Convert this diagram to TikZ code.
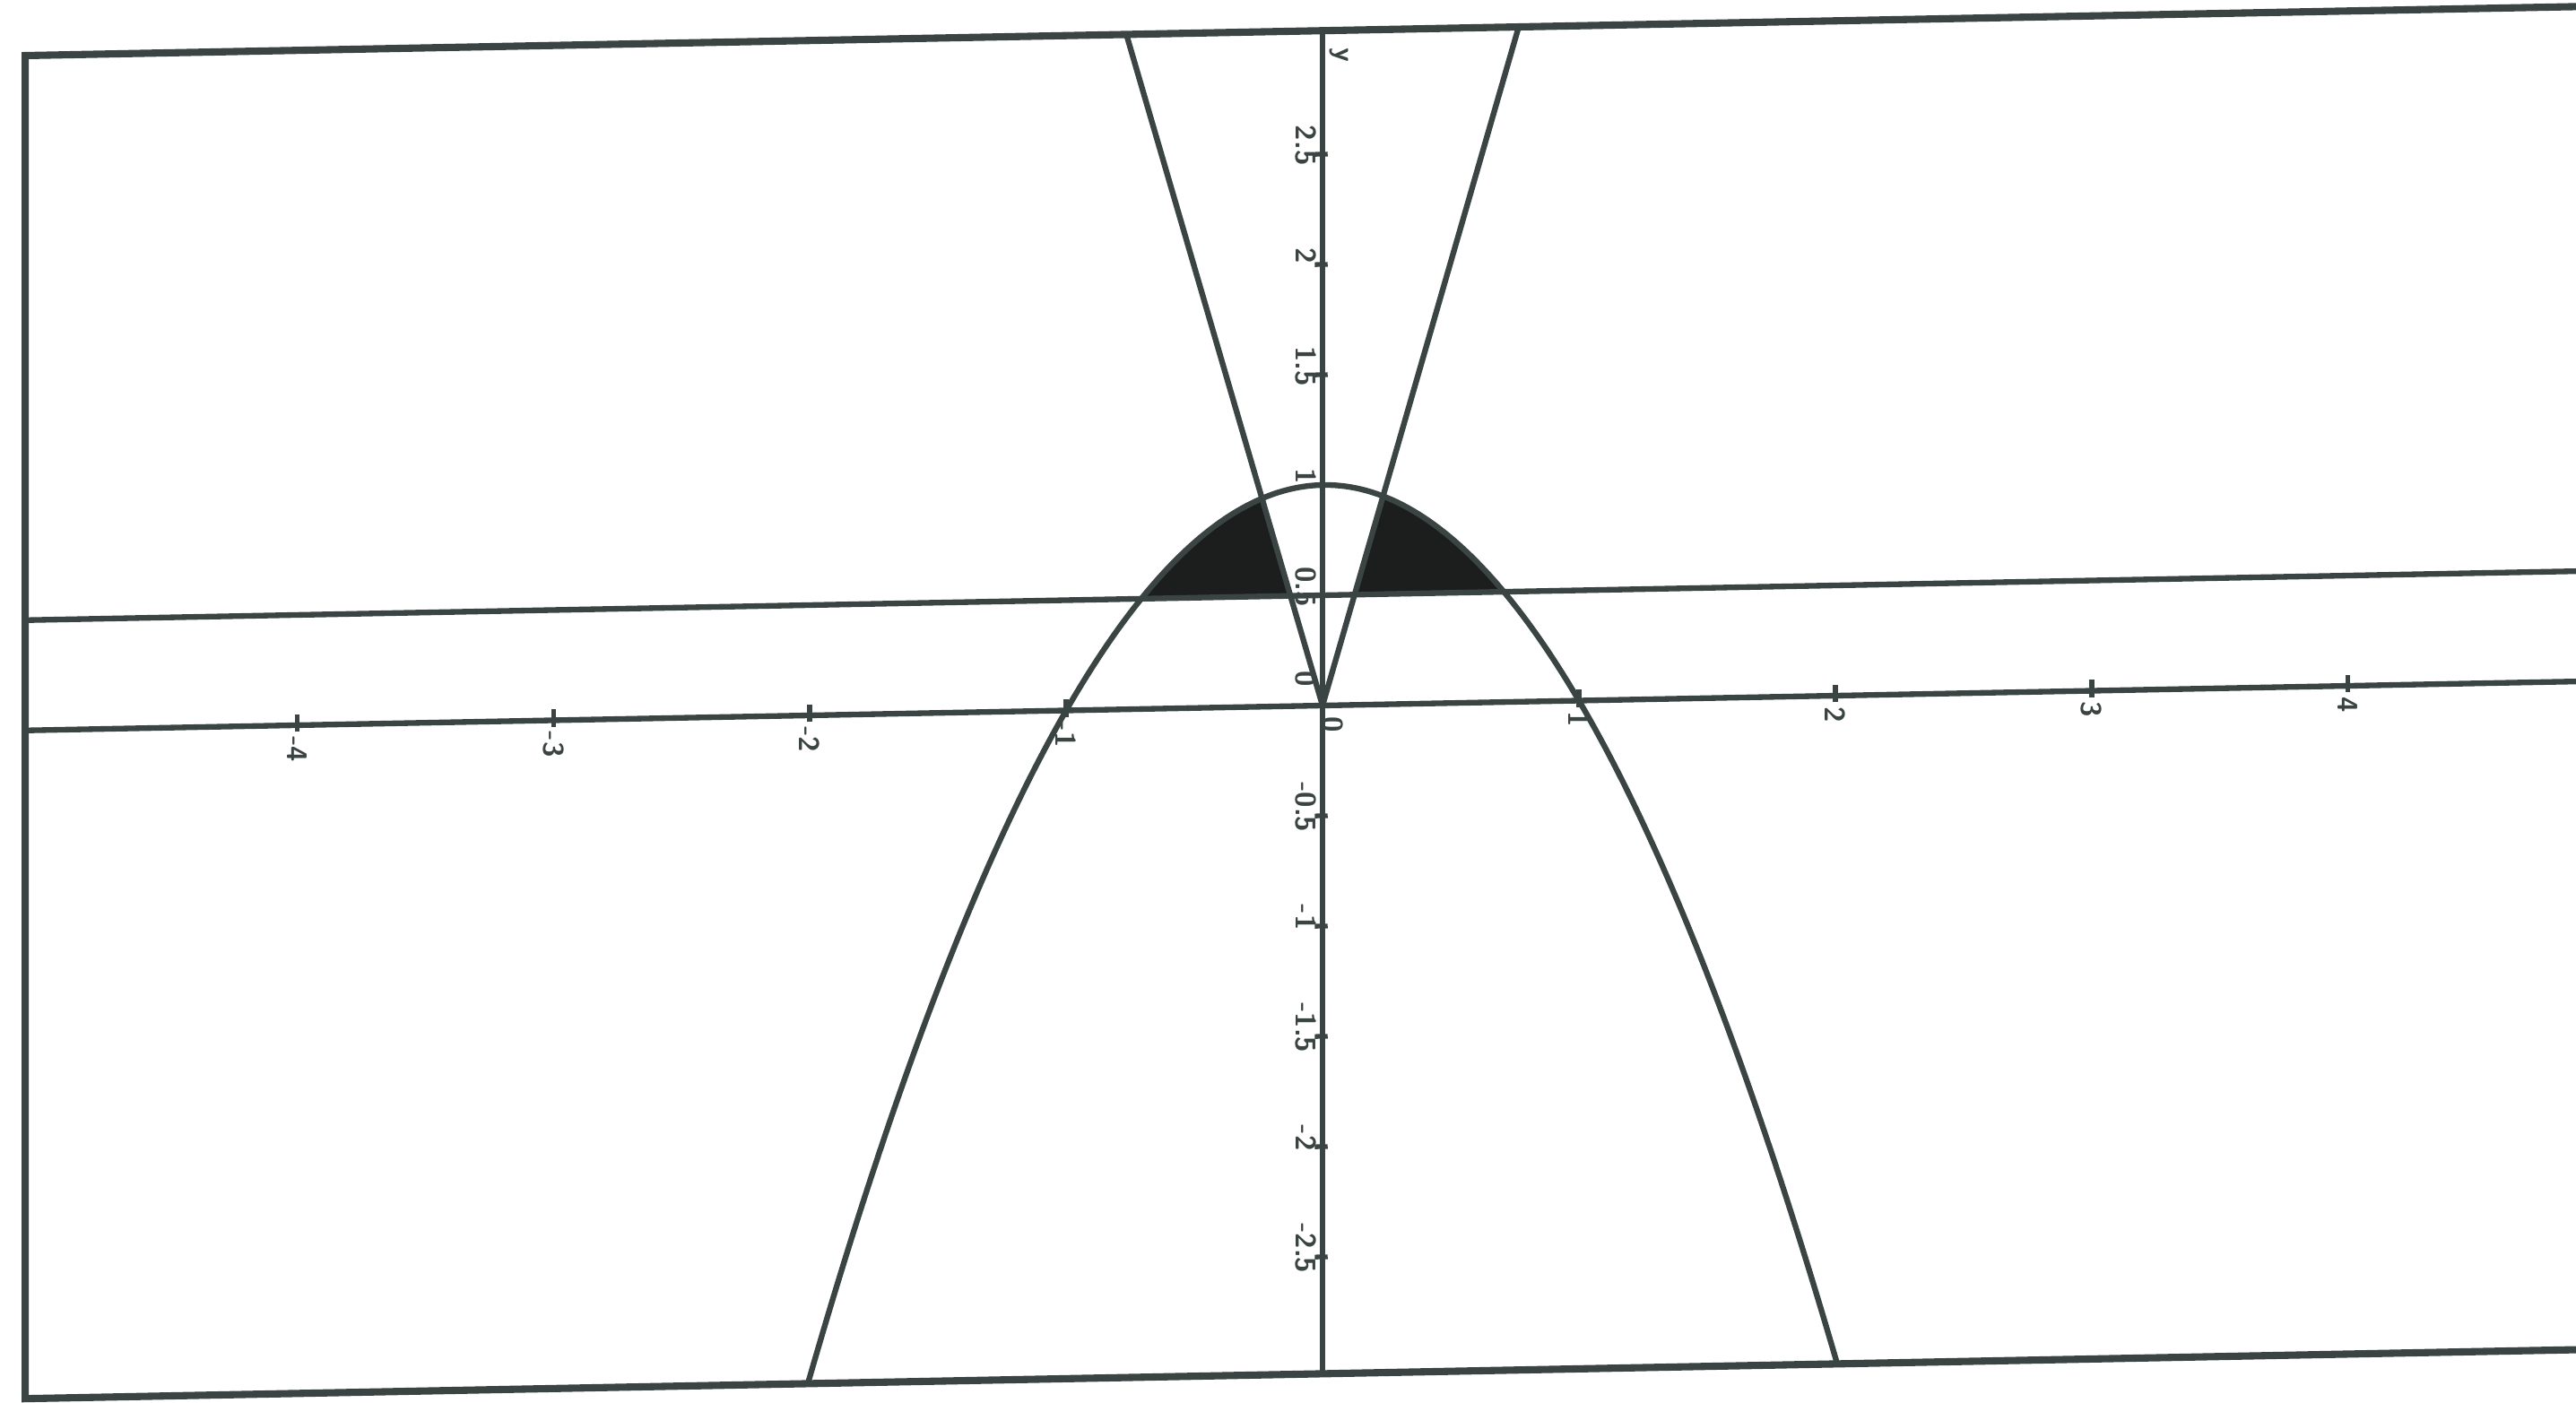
\documentclass[tikz,border=0pt]{standalone}
\begin{document}
\definecolor{inkline}{RGB}{58,68,66}
\definecolor{inkfill}{RGB}{28,30,30}
\tikzset{
  frameline/.style={draw=inkline, line width=2.3pt, line join=miter},
  axisline/.style={draw=inkline, line width=1.8pt},
  curveline/.style={draw=inkline, line width=1.8pt, line join=round},
  shadefill/.style={fill=inkfill},
  ticklbl/.style={font=\sffamily\bfseries\small, text=inkline, inner sep=0.5pt, rotate=-90},
  tickmark/.style={draw=inkline, line width=1.5pt}
}
\begin{tikzpicture}[x=1cm,y=1cm]
\useasboundingbox (0,0) rectangle (28.73,15.64);
\clip (0,0) rectangle (28.73,15.64);
\fill[white] (0,0) rectangle (28.73,15.64);
\begin{scope}[shift={(14.75,7.77)}, x={(2.8595cm,0.0549cm)}, y={(0cm,2.46cm)}]
  % shaded regions
  \fill[shadefill] plot[domain=-0.70711:-0.23607, samples=40] (\x,{1-\x*\x}) -- (-0.125,0.5) -- cycle;
  \fill[shadefill] (0.125,0.5) -- plot[domain=0.23607:0.70711, samples=40] (\x,{1-\x*\x}) -- cycle;
  % frame
  \coordinate (fbl) at (-5.06,-3.03);
  \coordinate (fbr) at (5.4,-3.03);
  \coordinate (ftr) at (5.4,3.06);
  \coordinate (ftl) at (-5.06,3.06);
  \draw[frameline] (fbl) -- (fbr) -- (ftr) -- (ftl) -- cycle;
  % axes and horizontal line
  \coordinate (xl) at (-5.06,0);
  \coordinate (xr) at (5.4,0);
  \coordinate (yb) at (0,-3.03);
  \coordinate (yt) at (0,3.06);
  \coordinate (hl) at (-5.06,0.5);
  \coordinate (hr) at (5.4,0.5);
  \coordinate (O) at (0,0);
  \coordinate (vl) at (-0.765,3.06);
  \coordinate (vr) at (0.765,3.06);
  \draw[axisline] (xl) -- (xr);
  \draw[axisline] (yb) -- (yt);
  \draw[axisline] (hl) -- (hr);
  % V lines y = 4|x|
  \draw[curveline] (vl) -- (O) -- (vr);
  % parabola y = 1 - x^2
  \draw[curveline] plot[domain=-2.01:2.01, samples=200] (\x,{1-\x*\x});
  % x ticks and labels
  \foreach \k/\t in {-4/-4,-3/-3,-2/-2,-1/-1,1/1,2/2,3/3,4/4}{
    \draw[tickmark] (\k,-0.03) -- (\k,0.05);
    \node[ticklbl, anchor=west] (xt\k) at (\k,-0.04) {\t};
  }
  % y ticks and labels
  \foreach \k/\t in {2.5/2.5,2/2,1.5/1.5,1/1,0.5/0.5,-0.5/-0.5,-1/-1,-1.5/-1.5,-2/-2,-2.5/-2.5}{
    \draw[tickmark] (-0.03,\k) -- (0.02,\k);
    \node[ticklbl, anchor=north] (yt\k) at (-0.015,\k+0.04) {\t};
  }
  \node[ticklbl, anchor=north] (yzero) at (-0.015,0.12) {0};
  \node[ticklbl, anchor=west] (xzero) at (0.04,-0.04) {0};
  \node[ticklbl, anchor=south] (ylab) at (0.02,2.95) {y};
\end{scope}
\end{tikzpicture}
\end{document}
